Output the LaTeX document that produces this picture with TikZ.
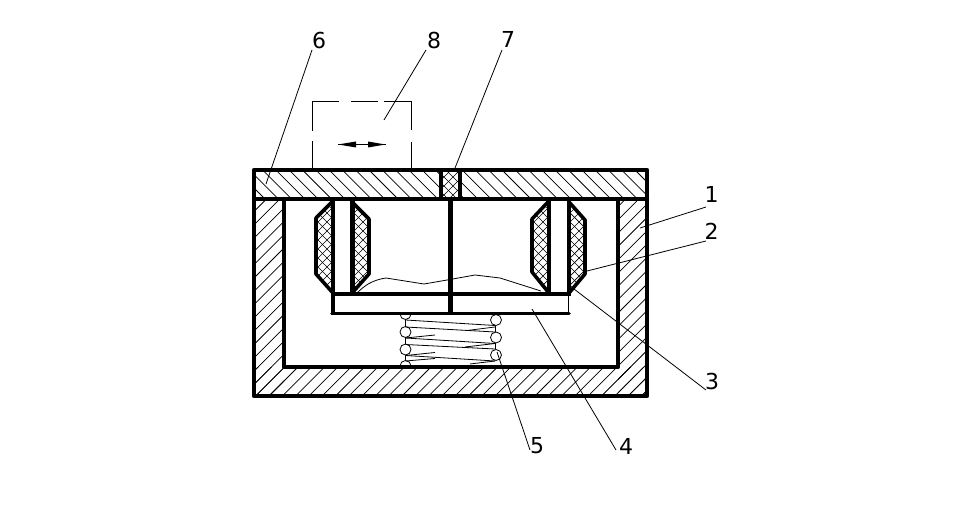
\documentclass[tikz,border=0pt]{standalone}
\usepackage{fontspec}
\setmainfont{DejaVu Sans}
\tikzset{
  wall/.style={line width=4.4pt,line cap=round,line join=round},
  seal/.style={line width=3.6pt,line join=round},
  hatchline/.style={line width=0.75pt},
  crossline/.style={line width=0.7pt},
  thin line/.style={line width=0.8pt},
  leader/.style={line width=0.8pt},
  num/.style={font=\fontsize{22}{24}\selectfont,inner sep=0pt},
  coil/.style={circle,draw,line width=0.8pt,fill=white,minimum size=11pt,inner sep=0pt},
  tri/.style={fill=black,draw=none}
}
\newcommand{\hatchNE}[4]{% x1 y1 x2 y2, lines /
  \begin{scope}
    \clip (#1,#2) rectangle (#3,#4);
    \foreach \k in {0,13.3,...,1100} {\draw[hatchline] (\k,0) -- ++(-500,500);}
  \end{scope}}
\newcommand{\hatchNW}[4]{% lines \
  \begin{scope}
    \clip (#1,#2) rectangle (#3,#4);
    \foreach \k in {-200,-186.7,...,800} {\draw[hatchline] (\k,0) -- ++(300,300);}
  \end{scope}}
\newcommand{\crosshatch}[1]{%
  \begin{scope}
    \clip #1;
    \foreach \k in {0,9,...,1000} {\draw[crossline] (\k,0) -- ++(-400,400);}
    \foreach \k in {-300,-291,...,700} {\draw[crossline] (\k,0) -- ++(400,400);}
  \end{scope}}
\begin{document}
\begin{tikzpicture}[x=1pt,y=-1pt]
\useasboundingbox (0,0) rectangle (954,524);
% hatching
\hatchNW{254}{172}{441}{198}
\hatchNW{460}{172}{647}{198}
\hatchNE{254}{199}{284}{396}
\hatchNE{254}{367}{647}{396}
\hatchNE{618}{199}{647}{396}
\crosshatch{(441,172) rectangle (460,198)}
% seals
\crosshatch{(331,203) -- (316,218) -- (316,274) -- (331,292) -- cycle}
\crosshatch{(353,203) -- (369,219) -- (369,274) -- (353,292) -- cycle}
\crosshatch{(548,203) -- (532,219) -- (532,272) -- (548,292) -- cycle}
\crosshatch{(569,203) -- (585,220) -- (585,274) -- (569,292) -- cycle}
\draw[seal] (332,202) -- (316,218) -- (316,274) -- (333,293);
\draw[seal] (352,202) -- (369,219) -- (369,274) -- (352,293);
\draw[seal] (548,202) -- (532,219) -- (532,272) -- (549,293);
\draw[seal] (569,202) -- (585,220) -- (585,274) -- (569,293);
% spring
\begin{scope}
\clip (390,314) rectangle (510,366);
\node[coil] (cl0) at (405.5,314) {};
\node[coil] (cl1) at (405.5,332) {};
\node[coil] (cl2) at (405.5,349.5) {};
\node[coil] (cl3) at (405.5,366) {};
\node[coil] (cr1) at (496,320) {};
\node[coil] (cr2) at (496,337.5) {};
\node[coil] (cr3) at (496,355) {};
\end{scope}
\draw[thin line] (405.5,319.5) -- (cl1) (cl1) -- (cl2) (cl2) -- (405.5,361);
\draw[thin line] (495,326) -- (495,332) (495,343) -- (495,349);
\draw[thin line] (405.5,320) -- (495,325.5);
\draw[thin line] (405.5,327) -- (495,332);
\draw[thin line] (405.5,338) -- (495,343.5);
\draw[thin line] (405.5,344.5) -- (495,349);
\draw[thin line] (405.5,355.5) -- (495,361);
\draw[thin line] (495,327) -- (467,330.5);
\draw[thin line] (405.5,338) -- (435,335);
\draw[thin line] (495,343.5) -- (465,347);
\draw[thin line] (405.5,355.5) -- (435,352.5);
\draw[thin line] (495,361) -- (470,364);
\draw[thin line] (405.5,361) -- (435,358.5);
% outer body
\draw[wall] (254,170) rectangle (647,396);
\draw[wall] (254,199) -- (647,199);
\draw[wall] (284,199) -- (284,367) -- (618,367) -- (618,199);
\draw[line width=3.6pt] (441,170) -- (441,199);
\draw[line width=3.6pt] (460,170) -- (460,199);
% piston
\draw[wall,line cap=butt] (333,199) -- (333,315);
\draw[wall,line cap=butt] (352.5,199) -- (352.5,294);
\draw[line width=3.8pt] (549,199) -- (549,294);
\draw[wall,line cap=butt] (569,199) -- (569,296);
\draw[wall,line cap=butt] (450.5,199) -- (450.5,315);
\draw[wall,line cap=butt] (331,294) -- (571,294);
\draw[line width=3.6pt,line cap=round] (332,313.5) -- (569,313.5);
\draw[thin line] (568.5,294) -- (568.5,313);
\draw[thin line] (357,293) .. controls (364,286) and (372,280) .. (386,278) -- (424,284) -- (450,279.5) -- (475,275) -- (500,278) -- (541,291);
% dash-dot box
\draw[thin line] (312.5,170) -- (312.5,141) (312.5,131) -- (312.5,101.5) -- (338.5,101.5)
  (351,101.5) -- (378,101.5) (384,101.5) -- (411.5,101.5) -- (411.5,130) (411.5,142) -- (411.5,170);
% double arrow
\coordinate (al) at (338,144.5);
\coordinate (ar) at (385.5,144.5);
\draw[thin line] (al) -- (ar);
\fill[tri] (al) -- (356,141.5) -- (356,147.5) -- cycle;
\fill[tri] (ar) -- (368,141.5) -- (368,147.5) -- cycle;
% labels and leaders
\node[num] (n6) at (319,40) {6};
\node[num] (n8) at (434,40) {8};
\node[num] (n7) at (508,39) {7};
\node[num] (n1) at (711.5,194) {1};
\node[num] (n2) at (711.5,231) {2};
\node[num] (n3) at (712,381) {3};
\node[num] (n4) at (626,446) {4};
\node[num] (n5) at (537,446) {5};
\coordinate (s6) at (312,50); \coordinate (e6) at (266,184);
\coordinate (s8) at (426,50); \coordinate (e8) at (384,120);
\coordinate (s7) at (502,50); \coordinate (e7) at (455,168);
\coordinate (s1) at (706,207); \coordinate (e1) at (640,228);
\coordinate (s2) at (706,241); \coordinate (e2) at (587,271);
\coordinate (s3) at (706,390); \coordinate (e3) at (574,289);
\coordinate (s4) at (616,450); \coordinate (e4) at (532,309);
\coordinate (s5) at (530,450); \coordinate (e5) at (497,352);
\foreach \i in {6,8,7,1,2,3,4,5} {\draw[leader] (s\i) -- (e\i);}
\end{tikzpicture}
\end{document}
